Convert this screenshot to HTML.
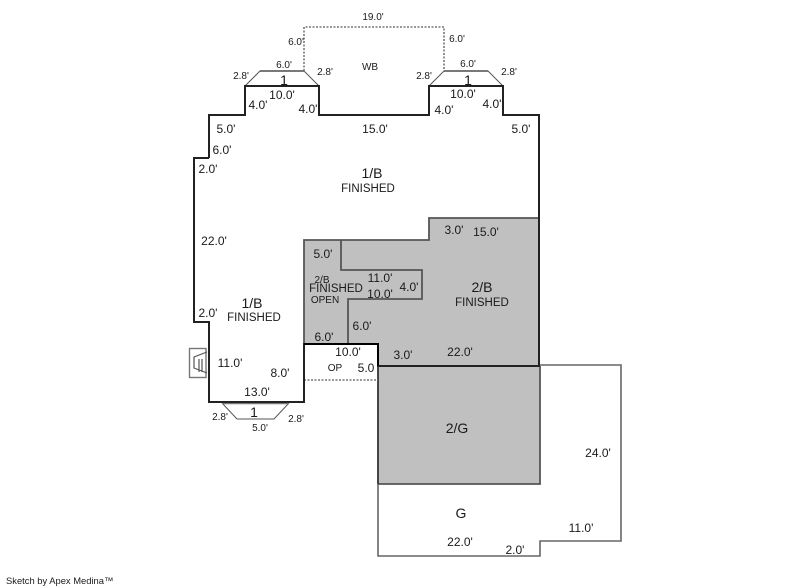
<!DOCTYPE html>
<html><head><meta charset="utf-8"><style>
html,body{margin:0;padding:0;background:#fff}
svg{display:block}
text{font-family:"Liberation Sans",Arial,sans-serif;fill:#1a1a1a;font-size:12px;text-anchor:middle}
.s{font-size:10px}
.m{font-size:11.500px}
.b{font-size:14px}
.l{text-anchor:start}
</style></head><body>
<svg width="800" height="587" viewBox="0 0 800 587" xmlns="http://www.w3.org/2000/svg">
<rect width="800" height="587" fill="#fff"/>
<!-- gray fills -->
<polygon points="304,240 429,240 429,218 539,218 539,366 378,366 378,344 304,344" fill="#c0c0c0"/>
<rect x="378" y="366" width="162" height="118" fill="#c0c0c0"/>
<!-- garage -->
<path d="M378,366V556H540V541H621V365H540" fill="none" stroke="#666" stroke-width="1.6"/>
<path d="M378,484H540V366" fill="none" stroke="#555" stroke-width="1.800"/>
<path d="M378,366V484" stroke="#333" stroke-width="1.600" fill="none"/>
<!-- 2/B outline -->
<path d="M304,344V240H429V218H539" fill="none" stroke="#555" stroke-width="1.800"/>
<path d="M341,240V270H422V299H348V344" fill="none" stroke="#555" stroke-width="1.800"/>
<!-- WB dotted -->
<path d="M304,71V27H444V71" fill="none" stroke="#777" stroke-width="1.600" stroke-dasharray="2 1.500"/>
<!-- OP dashed -->
<path d="M304,380H378" fill="none" stroke="#777" stroke-width="1.600" stroke-dasharray="2 1.500"/>
<!-- bays -->
<path d="M245,86L260,71H304L319,86" fill="none" stroke="#555" stroke-width="1"/>
<path d="M260,71H304" stroke="#666" stroke-width="1.800"/>
<path d="M429,86L444,71H488L503,86" fill="none" stroke="#555" stroke-width="1"/>
<path d="M444,71H488" stroke="#666" stroke-width="1.800"/>
<path d="M222,403L237,419H274L289,403" fill="none" stroke="#555" stroke-width="1"/>
<path d="M222,403.500H289" stroke="#777" stroke-width="1.500"/>
<!-- main outline -->
<path d="M209,158V115H245V86H319V115H429V86H503V115H539V366H378V344H304V402H209V322H194V158H209" fill="none" stroke="#222" stroke-width="2"/>
<path d="M304,344H378V366" fill="none" stroke="#000" stroke-width="2"/>
<!-- stoop -->
<rect x="189.500" y="348.500" width="16.500" height="29" fill="none" stroke="#777" stroke-width="1.400"/>
<path d="M207,352L194,357V368L207,373" fill="none" stroke="#555" stroke-width="1.200"/>
<path d="M199,359V372M202,359V372" stroke="#555" stroke-width="1.200"/>
<!-- labels -->
<text x="373" y="20" class="s">19.0'</text>
<text x="296" y="45" class="s">6.0'</text>
<text x="457" y="42" class="s">6.0'</text>
<text x="370" y="70" class="s">WB</text>
<text x="284" y="68" class="s">6.0'</text>
<text x="468" y="67" class="s">6.0'</text>
<text x="241" y="79" class="s">2.8'</text>
<text x="325" y="75" class="s">2.8'</text>
<text x="424" y="79" class="s">2.8'</text>
<text x="509" y="75" class="s">2.8'</text>
<text x="284" y="85" class="b">1</text>
<text x="468" y="85" class="b">1</text>
<text x="282" y="99">10.0'</text>
<text x="463" y="98">10.0'</text>
<text x="258" y="109">4.0'</text>
<text x="308" y="113">4.0'</text>
<text x="444" y="114">4.0'</text>
<text x="492" y="108">4.0'</text>
<text x="226" y="133">5.0'</text>
<text x="375" y="133">15.0'</text>
<text x="521" y="133">5.0'</text>
<text x="222" y="154">6.0'</text>
<text x="208" y="173">2.0'</text>
<text x="372" y="178" class="b">1/B</text>
<text x="368" y="192" class="m">FINISHED</text>
<text x="214" y="245">22.0'</text>
<text x="323" y="258">5.0'</text>
<text x="454" y="234">3.0'</text>
<text x="486" y="236">15.0'</text>
<text x="322" y="283" class="s">2/B</text>
<text x="336" y="292" class="m">FINISHED</text>
<text x="325" y="303" class="s">OPEN</text>
<text x="380" y="282">11.0'</text>
<text x="380" y="298">10.0'</text>
<text x="409" y="291">4.0'</text>
<text x="482" y="292" class="b">2/B</text>
<text x="482" y="306" class="m">FINISHED</text>
<text x="252" y="308" class="b">1/B</text>
<text x="254" y="321" class="m">FINISHED</text>
<text x="208" y="317">2.0'</text>
<text x="362" y="330">6.0'</text>
<text x="324" y="341">6.0'</text>
<text x="348" y="356">10.0'</text>
<text x="403" y="359">3.0'</text>
<text x="460" y="356">22.0'</text>
<text x="335" y="371" class="s">OP</text>
<text x="366" y="372">5.0</text>
<text x="230" y="367">11.0'</text>
<text x="280" y="377">8.0'</text>
<text x="257" y="396">13.0'</text>
<text x="254" y="417" class="b">1</text>
<text x="220" y="420" class="s">2.8'</text>
<text x="296" y="422" class="s">2.8'</text>
<text x="260" y="431" class="s">5.0'</text>
<text x="457" y="433" class="b">2/G</text>
<text x="598" y="457">24.0'</text>
<text x="461" y="518" class="b">G</text>
<text x="581" y="532">11.0'</text>
<text x="460" y="546">22.0'</text>
<text x="515" y="554">2.0'</text>
<text x="6" y="584" class="l" style="font-size:9.400px">Sketch by Apex Medina™</text>
</svg>
</body></html>
